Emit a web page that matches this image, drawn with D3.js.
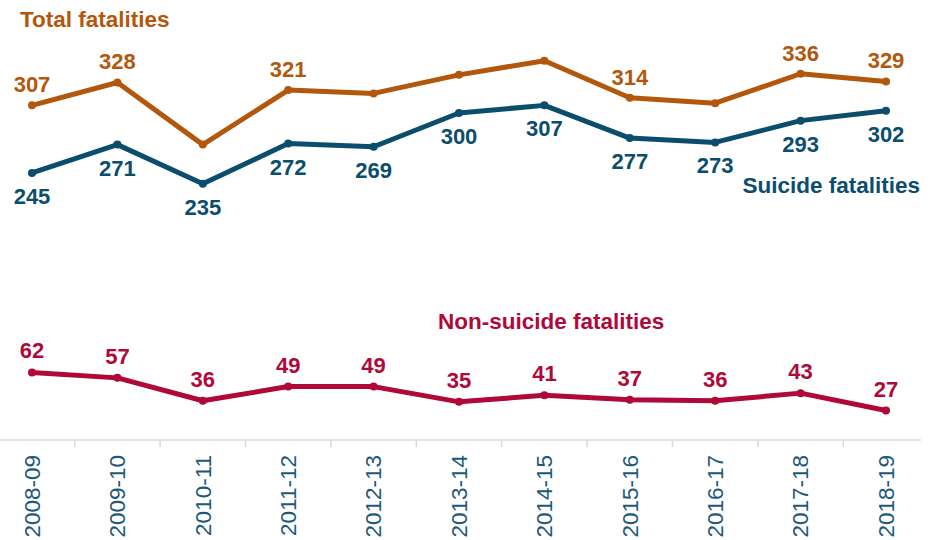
<!DOCTYPE html>
<html lang="en">
  <head>
    <meta charset="utf-8">
    <title>Fatalities by year</title>
    <script src="https://cdn.jsdelivr.net/npm/d3@7"></script>
    <style>
      body { margin: 0; background: #fff; }
      svg text { font-family: "Liberation Sans", Arial, sans-serif; }
      .val { font-size: 22px; font-weight: bold; text-anchor: middle; }
      .series_name { font-size: 22.5px; font-weight: bold; }
      .axis text { font-size: 22.5px; fill: #1d5a7a; }
    </style>
  </head>
  <body>
    <div id="svg-area"></div>
    <script>
      const svg_width = 939;
      const svg_height = 540;

      const years = ['2008-09','2009-10','2010-11','2011-12','2012-13','2013-14',
                     '2014-15','2015-16','2016-17','2017-18','2018-19'];
      const total = [307, 328, 271, 321, 318, 335, 348, 314, 309, 336, 329];
      const suicide = [245, 271, 235, 272, 269, 300, 307, 277, 273, 293, 302];
      const non_suicide = [62, 57, 36, 49, 49, 35, 41, 37, 36, 43, 27];
      // only some of the total points carry a value label
      const total_labelled = ['2008-09','2009-10','2011-12','2015-16','2017-18','2018-19'];

      const colors = { total: '#b3570c', suicide: '#0b4d6d', non: '#b00839' };

      const svg = d3.select('#svg-area')
        .append('svg')
        .attr('width', svg_width)
        .attr('height', svg_height);

      //scales
      const x_scale = d3.scalePoint()
        .domain(years)
        .range([32, 886]);
      const y_scale = d3.scaleLinear()
        .domain([0, 400])
        .range([440, 4]);
      const step = x_scale.step();

      //axis
      const axis = svg.append('g')
        .attr('class', 'axis')
        .attr('transform', `translate(0,${y_scale(0)})`);
      axis.append('line')
        .attr('x1', 0).attr('x2', 921)
        .attr('stroke', '#d9d9d9').attr('stroke-width', 1.5);
      axis.selectAll('line.tick').data(years.slice(1)).enter()
        .append('line')
        .attr('class', 'tick')
        .attr('x1', d => x_scale(d) - step / 2)
        .attr('x2', d => x_scale(d) - step / 2)
        .attr('y1', 0).attr('y2', 7)
        .attr('stroke', '#d9d9d9').attr('stroke-width', 1.5);
      axis.selectAll('text').data(years).enter()
        .append('text')
        .text(d => d)
        .attr('text-anchor', 'end')
        .attr('dy', '0.35em')
        .attr('transform', d => `translate(${x_scale(d)},15) rotate(-90)`);

      const series = [
        { key: 'total', values: total, color: colors.total, dy: -13, show: d => total_labelled.includes(d) },
        { key: 'suicide', values: suicide, color: colors.suicide, dy: 31, show: () => true },
        { key: 'non', values: non_suicide, color: colors.non, dy: -14, show: () => true }
      ];

      const line = d3.line()
        .x(d => x_scale(d.year))
        .y(d => y_scale(d.value));

      series.forEach(s => {
        const pts = years.map((y, i) => ({ year: y, value: s.values[i] }));
        const g = svg.append('g');
        g.append('path')
          .datum(pts)
          .attr('d', line)
          .attr('fill', 'none')
          .attr('stroke', s.color)
          .attr('stroke-width', 5)
          .attr('stroke-linejoin', 'round');
        g.selectAll('circle').data(pts).enter()
          .append('circle')
          .attr('cx', d => x_scale(d.year))
          .attr('cy', d => y_scale(d.value))
          .attr('r', 4)
          .attr('fill', s.color);
        g.selectAll('text').data(pts.filter(d => s.show(d.year))).enter()
          .append('text')
          .attr('class', 'val')
          .text(d => d.value)
          .attr('x', d => x_scale(d.year))
          .attr('y', d => y_scale(d.value) + s.dy)
          .attr('fill', s.color);
      });

      //series names
      svg.append('text').attr('class', 'series_name')
        .attr('x', 20).attr('y', 27)
        .attr('fill', colors.total)
        .text('Total fatalities');
      svg.append('text').attr('class', 'series_name')
        .attr('x', 920).attr('y', 193)
        .attr('text-anchor', 'end')
        .attr('fill', colors.suicide)
        .text('Suicide fatalities');
      svg.append('text').attr('class', 'series_name')
        .attr('x', 438).attr('y', 329)
        .attr('fill', colors.non)
        .text('Non-suicide fatalities');
    </script>
  </body>
</html>
